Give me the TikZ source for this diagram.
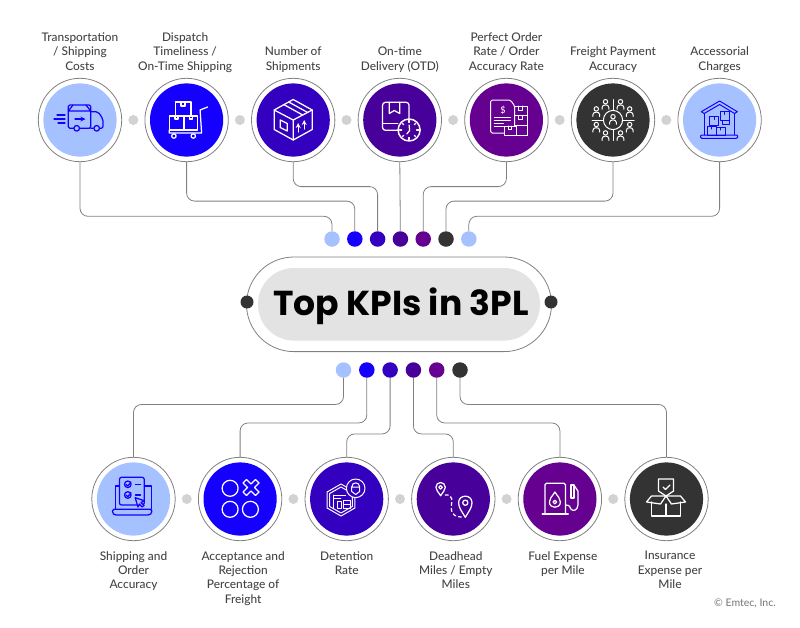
\documentclass[tikz,border=0pt]{standalone}
\usepackage{fontspec}
\setmainfont{Lato Medium}
\newfontfamily\titlefont{Poppins Bold}
\usepackage{tikz}
\usetikzlibrary{positioning}
\definecolor{kpisky}{HTML}{A6C1FF}
\definecolor{kpiblue}{HTML}{1500FF}
\definecolor{kpiindigo}{HTML}{3300BF}
\definecolor{kpiviolet}{HTML}{47009A}
\definecolor{kpipurple}{HTML}{650090}
\definecolor{kpidark}{HTML}{333333}
\definecolor{linegrey}{HTML}{808080}
\definecolor{spacergrey}{HTML}{D2D2D2}
\definecolor{labelgrey}{HTML}{444444}
\tikzstyle{ring} = [circle, minimum size=83.4pt, inner sep=0pt, draw=linegrey, line width=.8pt, fill=white, path picture={\fill [#1] (path picture bounding box.center) circle (36.6pt);}]
\tikzstyle{spacer} = [circle, minimum size=10pt, inner sep=0pt, fill=spacergrey]
\tikzstyle{port} = [circle, minimum size=15.5pt, inner sep=0pt, fill=#1]
\tikzstyle{endcap} = [circle, minimum size=13pt, inner sep=0pt, fill=kpidark]
\tikzstyle{caption} = [align=center, inner sep=0pt, text=labelgrey, font=\fontsize{11.9}{14.4}\selectfont, execute at begin node=\strut, execute at end node=\strut]
\tikzstyle{link} = [draw=linegrey, line width=.8pt, rounded corners=8pt]
\tikzstyle{icon} = [line width=1.25pt, line join=round, line cap=round]

\begin{document}
\begin{tikzpicture}[x=1pt, y=-1pt, node distance=106.6pt]
\useasboundingbox (0,0) rectangle (800,627);
% centre pill
\node (pill) [rectangle, rounded corners=47.3pt, minimum width=305pt, minimum height=94.6pt, draw=linegrey, line width=.8pt, fill=white] at (399,304.3) {};
\node (shade) [rectangle, rounded corners=36pt, minimum width=282pt, minimum height=72.6pt, fill=black!11] at (399,304.3) {};
\node (title) [font=\titlefont\fontsize{34.6}{40}\selectfont] at (401,306) {Top KPIs in 3PL};
\node (capL) [endcap] at (247,302) {};
\node (capR) [endcap] at (551,302) {};

% upper row
\node (truck) [ring=kpisky] at (80,120) {};
\node (cart) [ring=kpiblue, right of=truck] {};
\node (carton) [ring=kpiindigo, right of=cart] {};
\node (clock) [ring=kpiviolet, right of=carton] {};
\node (order) [ring=kpipurple, right of=clock] {};
\node (people) [ring=kpidark, right of=order] {};
\node (store) [ring=kpisky, right of=people] {};
\node (gapA) [spacer, right of=truck, xshift=-53.3pt] {};
\node (gapB) [spacer, right of=cart, xshift=-53.3pt] {};
\node (gapC) [spacer, right of=carton, xshift=-53.3pt] {};
\node (gapD) [spacer, right of=clock, xshift=-53.3pt] {};
\node (gapE) [spacer, right of=order, xshift=-53.3pt] {};
\node (gapF) [spacer, right of=people, xshift=-53.3pt] {};
\node (truckText) [caption, above=3pt of truck] {Transportation\\/ Shipping\\Costs};
\node (cartText) [caption, above=3pt of cart, xshift=-1.5pt] {Dispatch\\Timeliness /\\On-Time Shipping};
\node (cartonText) [caption, above=3pt of carton] {Number of\\Shipments};
\node (clockText) [caption, above=3pt of clock] {On-time\\Delivery (OTD)};
\node (orderText) [caption, above=3pt of order] {Perfect Order\\Rate / Order\\Accuracy Rate};
\node (peopleText) [caption, above=3pt of people] {Freight Payment\\Accuracy};
\node (storeText) [caption, above=3pt of store] {Accessorial\\Charges};

% upper ports
\node (upA) [port=kpisky] at (332,239) {};
\node (upB) [port=kpiblue, right of=upA, node distance=22.8pt] {};
\node (upC) [port=kpiindigo, right of=upB, node distance=22.8pt] {};
\node (upD) [port=kpiviolet, right of=upC, node distance=22.8pt] {};
\node (upE) [port=kpipurple, right of=upD, node distance=22.8pt] {};
\node (upF) [port=kpidark, right of=upE, node distance=22.8pt] {};
\node (upG) [port=kpisky, right of=upF, node distance=22.8pt] {};
\draw [link] (truck.south) -- ++(0,54.2) -| (upA);
\draw [link] (cart.south) -- ++(0,39) -| (upB);
\draw [link] (carton.south) -- ++(0,24.5) -| (upC);
\draw [link] (clock.south) -- (upD);
\draw [link] (order.south) -- ++(0,24.5) -| (upE);
\draw [link] (people.south) -- ++(0,39) -| (upF);
\draw [link] (store.south) -- ++(0,54.2) -| (upG);

% lower row
\node (laptop) [ring=kpisky] at (133.5,499) {};
\node (marks) [ring=kpiblue, right of=laptop] {};
\node (lock) [ring=kpiindigo, right of=marks] {};
\node (route) [ring=kpiviolet, right of=lock] {};
\node (fuel) [ring=kpipurple, right of=route] {};
\node (cover) [ring=kpidark, right of=fuel] {};
\node (gapG) [spacer, right of=laptop, xshift=-53.3pt] {};
\node (gapH) [spacer, right of=marks, xshift=-53.3pt] {};
\node (gapI) [spacer, right of=lock, xshift=-53.3pt] {};
\node (gapJ) [spacer, right of=route, xshift=-53.3pt] {};
\node (gapK) [spacer, right of=fuel, xshift=-53.3pt] {};
\node (laptopText) [caption, below=10pt of laptop] {Shipping and\\Order\\Accuracy};
\node (marksText) [caption, below=10pt of marks, xshift=3pt] {Acceptance and\\Rejection\\Percentage of\\Freight};
\node (lockText) [caption, below=10pt of lock] {Detention\\Rate};
\node (routeText) [caption, below=10pt of route, xshift=2.5pt] {Deadhead\\Miles / Empty\\Miles};
\node (fuelText) [caption, below=10pt of fuel, xshift=3pt] {Fuel Expense\\per Mile};
\node (coverText) [caption, below=10pt of cover, xshift=3.5pt] {Insurance\\Expense per\\Mile};
\node (credit) [text=black!50, font=\fontsize{10.5}{12}\selectfont] at (745,603) {© Emtec, Inc.};

% lower ports
\node (lowA) [port=kpisky] at (343.5,370) {};
\node (lowB) [port=kpiblue, right of=lowA, node distance=23.3pt] {};
\node (lowC) [port=kpiindigo, right of=lowB, node distance=23.3pt] {};
\node (lowD) [port=kpiviolet, right of=lowC, node distance=23.3pt] {};
\node (lowE) [port=kpipurple, right of=lowD, node distance=23.3pt] {};
\node (lowF) [port=kpidark, right of=lowE, node distance=23.3pt] {};
\draw [link] (lowA.south) -- ++(0,26.5) -| (laptop);
\draw [link] (lowB.south) -- ++(0,45) -| (marks);
\draw [link] (lowC.south) -- ++(0,56) -| (lock);
\draw [link] (lowD.south) -- ++(0,56) -| (route);
\draw [link] (lowE.south) -- ++(0,45) -| (fuel);
\draw [link] (lowF.south) -- ++(0,26.5) -| (cover);

% truck icon
\begin{scope}[shift={(truck.center)}, icon, draw=kpiblue]
\draw [rounded corners=1.5pt] (-11.7,8.3) -- (-11.7,-15) -- (10.7,-15) -- (10.7,8.3) -- cycle;
\draw [rounded corners=2pt] (10.7,-8.3) -- (18,-8.3) -- (23,-1) -- (23,8.3) -- (10.7,8.3);
\draw (-11.7,-9) -- (-7,-15) (10.7,-9) -- (6,-15) (-11.7,-9) -- (10.7,-9);
\draw [->, >=stealth] (-5,-1) -- (5.5,-1);
\draw (-26,-1) -- (-15,-1) (-23,-5) -- (-15,-5) (-22,3) -- (-15,3);
\draw [fill=kpisky] (-3.3,8.3) circle (2.8pt) (16.7,8.3) circle (2.8pt);
\end{scope}

% cart icon
\begin{scope}[shift={(cart.center)}, icon, draw=white]
\draw (-11,-4) rectangle (4.3,-18) (-17.3,-4) rectangle (-2.7,10) (-2.7,-4) rectangle (11,10);
\draw (-5.5,-18) -- (-5.5,-14) -- (-1.5,-14) -- (-1.5,-18);
\draw (-11.5,-4) -- (-11.5,-1) -- (-8.5,-1) -- (-8.5,-4) (3,-4) -- (3,-1) -- (6,-1) -- (6,-4);
\draw (-17.3,10) -- (-17.3,13) -- (15,13) -- (13.5,-10) -- (21,-13);
\draw (-12.7,16) circle (2.2pt) (6.7,16) circle (2.2pt);
\end{scope}

% carton icon
\begin{scope}[shift={(carton.center)}, icon, draw=white]
\draw (0,-20.5) -- (19,-10) -- (19,9.5) -- (0,20) -- (-19,9.5) -- (-19,-10) -- cycle;
\draw (-19,-10) -- (0,0) -- (19,-10) (0,0) -- (0,20);
\draw (-9.5,-15.5) -- (9.5,-5) (-4.5,-18) -- (14.5,-7.5);
\draw (-13,0) -- (-6,3.5) -- (-6,11) -- (-13,7.5) -- cycle;
\draw [->, >=stealth] (5,12) -- (5,3);
\draw [->, >=stealth] (11,9) -- (11,0);
\end{scope}

% clock icon
\begin{scope}[shift={(clock.center)}, icon, draw=white]
\draw [rounded corners=3pt] (9.3,0) -- (9.3,-17.7) -- (-17.3,-17.7) -- (-17.3,10.3) -- (-2,10.3);
\draw (-17.3,3.5) -- (-2,3.5);
\draw (-10.5,-17.7) -- (-10.5,-6.5) -- (-5.5,-9.5) -- (0,-6.5) -- (0,-17.7);
\draw [fill=kpiviolet, line width=1.5pt] (9.3,10) circle (11pt);
\draw (9.3,.5) -- (9.3,2.5) (9.3,17.5) -- (9.3,19.5) (-.2,10) -- (1.8,10) (16.8,10) -- (18.8,10);
\draw (2.6,3.3) -- (4,4.7) (16,3.3) -- (14.6,4.7) (2.6,16.7) -- (4,15.3) (16,16.7) -- (14.6,15.3);
\draw (9.3,5) -- (9.8,10.5) -- (7,14);
\end{scope}

% order icon
\begin{scope}[shift={(order.center)}, icon, line width=1pt, draw=white]
\draw [rounded corners=1.5pt] (-2.3,13) -- (-15.7,13) -- (-15.7,-20) -- (4,-20) -- (8.3,-14) -- (8.3,6);
\draw (8.3,-14) rectangle (20.7,-4.5) (8.3,-4.5) rectangle (20.7,5) (10,5) rectangle (20.7,15);
\draw (-2.3,6) rectangle (10,15);
\draw (-12,-3) -- (4,-3) (-12,0) -- (4,0) (-12,3) -- (-3,3) (-12,6) -- (-3,6);
\draw (12,-14) -- (12,-10) -- (16,-10) -- (16,-14) (12,-4.5) -- (12,-1) -- (16,-1) -- (16,-4.5);
\draw (2,6) -- (2,9.5) -- (5.5,9.5) -- (5.5,6);
\node (orderSign) [text=white, font=\fontsize{9}{9}\selectfont, inner sep=0pt] at (-3.3,-10) {\$};
\end{scope}

% people icon
\newcommand{\iconperson}[2]{\draw (#1,#2-2.8) circle (2.2pt); \draw (#1-3.4,#2+4.8) -- (#1-3.4,#2+3) .. controls (#1-3.4,#2-.5) and (#1+3.4,#2-.5) .. (#1+3.4,#2+3) -- (#1+3.4,#2+4.8);}
\begin{scope}[shift={(people.center)}, icon, line width=1pt, draw=white]
\draw (0,0) circle (9.6pt);
\draw (0,-20.5) -- (0,-9.6) (0,9.6) -- (0,20.5) (-21,0) -- (-9.6,0) (9.6,0) -- (21,0);
\iconperson{0}{-.5}
\iconperson{-7.5}{-15.5} \iconperson{7.5}{-15.5}
\iconperson{-16.7}{-8.3} \iconperson{16.7}{-8.3}
\iconperson{-16.7}{7.3} \iconperson{16.7}{7.3}
\iconperson{-7.5}{15.7} \iconperson{7.5}{15.7}
\end{scope}

% store icon
\begin{scope}[shift={(store.center)}, icon, line width=1pt, draw=kpiblue]
\draw (-18.3,-8.3) -- (0,-19) -- (17.7,-8.3) -- (15,-6.5) -- (0,-15.5) -- (-15.5,-6.5) -- cycle;
\draw (-15.5,-6.5) -- (-15.5,15) (15,-6.5) -- (15,15);
\draw [rounded corners=1pt] (-19,15) rectangle (18,18.3);
\draw (-10,-3.3) rectangle (-.7,5) (.7,-8.3) rectangle (10,0) (-12.3,6) rectangle (-3.3,15) (-3.3,7.3) rectangle (6,15) (3.3,0) rectangle (10,4.3);
\draw (-5,-3.3) -- (-5,-.5) (5,-8.3) -- (5,-5.5) (-8,6) -- (-8,9) (1,7.3) -- (1,10);
\end{scope}

% laptop icon
\begin{scope}[shift={(laptop.center)}, icon, draw=kpiblue]
\draw (-14,-13) -- (-18,-13) -- (-18,10.3) (10.7,-13) -- (18,-13) -- (18,10.3);
\draw [rounded corners=1.5pt] (-21,10.3) -- (18.3,10.3) -- (18.3,14) -- (16,16) -- (-19,16) -- (-21,14) -- cycle;
\draw [rounded corners=2pt, fill=kpisky] (-14,6) -- (-14,-21.7) -- (10.7,-21.7) -- (10.7,6) -- cycle;
\draw (-5.7,-14.7) circle (3.3pt) (-5.7,-4) circle (3.3pt);
\draw (-7.5,-14.7) -- (-5.7,-13) -- (-2.5,-17) (-7.5,-4) -- (-5.7,-2.3) -- (-2.5,-6.3);
\draw (2,-14.7) -- (7,-14.7) (2,-4) -- (7,-4);
\draw [fill=kpisky] (1.7,-1.3) -- (10.7,1.7) -- (7.5,3.5) -- (10.5,6.5) -- (8.5,8) -- (6,5) -- (4.5,8) -- cycle;
\end{scope}

% marks icon
\begin{scope}[shift={(marks.center)}, icon, draw=white]
\draw (-10,-10.7) circle (8pt) (-10,10.3) circle (8pt) (10.3,10.3) circle (8pt);
\draw (11,-11) ++(-2,-6) -- ++(2,2) -- ++(4.5,-4.5) -- ++(3.5,3.5) -- ++(-4.5,4.5) -- ++(4.5,4.5) -- ++(-3.5,3.5) -- ++(-4.5,-4.5) -- ++(-4.5,4.5) -- ++(-3.5,-3.5) -- ++(4.5,-4.5) -- ++(-4.5,-4.5) -- ++(3.5,-3.5) -- cycle;
\end{scope}

% lock icon
\begin{scope}[shift={(lock.center)}, icon, line width=1pt, draw=white]
\draw (-5.7,-15) -- (8.2,-7) -- (8.2,9) -- (-5.7,17) -- (-19.6,9) -- (-19.6,-7) -- cycle;
\draw (-5.7,-12) -- (5.6,-5.5) -- (5.6,7.5) -- (-5.7,14) -- (-17,7.5) -- (-17,-5.5) -- cycle;
\draw (-13,-4) -- (-1,-4) (-13,-1) -- (-6,-1) (-13,-4) -- (-13,9) (-9.5,2) rectangle (-5,9) (-3,1) rectangle (4,5) (-3,5) rectangle (4,9);
\draw [fill=kpiindigo] (9,-10.7) circle (9.3pt);
\draw (5,-12) .. controls (5,-17.5) and (13,-17.5) .. (13,-12) -- cycle (5,-12) -- (5,-7.5) -- (9,-4.5) -- (13,-7.5) -- (13,-12);
\end{scope}

% route icon
\begin{scope}[shift={(route.center)}, icon, draw=white]
\draw (-12.7,-3.3) .. controls (-15,-7) and (-17.4,-9) .. (-17.4,-11.7) .. controls (-17.4,-18) and (-8,-18) .. (-8,-11.7) .. controls (-8,-9) and (-10.4,-7) .. (-12.7,-3.3) -- cycle;
\draw (12,18.3) .. controls (9,13) and (5.3,9) .. (5.3,3.7) .. controls (5.3,-5) and (18.7,-5) .. (18.7,3.7) .. controls (18.7,9) and (15,13) .. (12,18.3) -- cycle;
\draw (-12.7,-11.7) circle (1.8pt) (12,3.7) circle (2.6pt);
\draw [dashed] (-8,-4) .. controls (1,-5) and (-2,3) .. (-2,9) .. controls (-2,16) and (3,18) .. (8,18);
\end{scope}

% fuel icon
\begin{scope}[shift={(fuel.center)}, icon, draw=white]
\draw [rounded corners=1.5pt] (-15,15) -- (-15,-15.7) -- (5.7,-15.7) -- (5.7,15);
\draw (-17.7,15) -- (8.3,15);
\draw (-5,-7) .. controls (-8,-2) and (-10.5,-1) .. (-10.5,3) .. controls (-10.5,10) and (.5,10) .. (.5,3) .. controls (.5,-1) and (-2,-2) .. (-5,-7) -- cycle;
\draw (-5,3) circle (1.8pt);
\draw (5.7,6) .. controls (10,6) and (10,8) .. (11,10) .. controls (13,13) and (18,11) .. (18,6) -- (18,-8) -- (14,-14);
\draw (11,-1) -- (11,-14) -- (14,-14) -- (14,-1) -- cycle;
\end{scope}

% cover icon
\begin{scope}[shift={(cover.center)}, icon, draw=white]
\draw (-8,-20) -- (7,-20) -- (7,-8) -- (-.5,-3) -- (-8,-8) -- cycle;
\draw (-3.5,-12) -- (-1,-9.5) -- (3.5,-14);
\draw (-15,3) -- (-15,17) -- (14,17) -- (14,3) (-.5,5) -- (-.5,17);
\draw (-.5,-3) -- (-15,-3) -- (-20,3) -- (-6,5) -- (-.5,-3) -- (5,5) -- (19,3) -- (14,-3) -- (-.5,-3);
\end{scope}
\end{tikzpicture}
\end{document}
